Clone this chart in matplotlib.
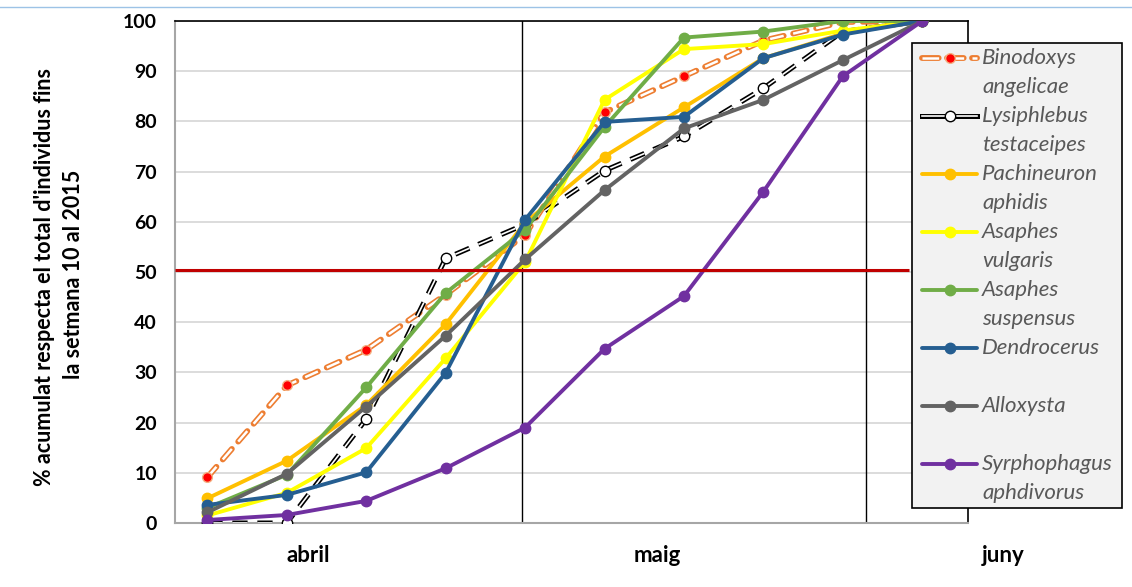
import numpy as np
import matplotlib
matplotlib.use('agg')
import matplotlib.pyplot as plt
from matplotlib.lines import Line2D
from matplotlib.patches import Rectangle
from matplotlib import transforms

plt.rcParams['font.family'] = ['Lato', 'DejaVu Sans']
plt.rcParams['lines.scale_dashes'] = False

# weekly points (10 weeks), cumulative %
weeks = np.arange(10)
binodoxys = [9.1, 27.4, 34.5, 45.5, 57.4, 81.8, 89.0, 96.1, 99.8, 100]
lysiphlebus = [0.0, 0.0, 20.7, 52.7, 59.5, 70.2, 77.0, 86.6, 97.9, 100]
pachineuron = [4.9, 12.4, 23.5, 39.6, 59.8, 73.0, 82.8, 92.6, 97.5, 100]
as_vulgaris = [1.5, 6.0, 14.9, 32.8, 52.0, 84.3, 94.4, 95.4, 98.1, 100]
as_suspensus = [3.0, 9.6, 27.0, 45.8, 58.4, 78.9, 96.7, 97.9, 100, 100]
dendrocerus = [3.6, 5.6, 10.1, 29.9, 60.4, 79.9, 80.9, 92.6, 97.3, 100]
alloxysta = [2.1, 9.8, 23.2, 37.3, 52.5, 66.3, 78.6, 84.3, 92.2, 100]
syrphophagus = [0.6, 1.6, 4.4, 10.9, 19.0, 34.7, 45.2, 66.0, 89.0, 100]

solid_series = [
    (pachineuron, '#ffc000', ('Pachineuron', 'aphidis')),
    (as_vulgaris, '#ffff00', ('Asaphes', 'vulgaris')),
    (as_suspensus, '#70ad47', ('Asaphes', 'suspensus')),
    (dendrocerus, '#255e91', ('Dendrocerus', '')),
    (alloxysta, '#636363', ('Alloxysta', '')),
    (syrphophagus, '#7030a0', ('Syrphophagus', 'aphdivorus')),
]

months = ['abril', 'maig', 'juny']
month_pos = [1.27, 5.66, 10.02]
month_breaks = [3.96, 8.29]
threshold = 50.3
yticks = np.arange(0, 101, 10)

W, H = 1132, 587
fig = plt.figure(figsize=(W / 100, H / 100), dpi=100)
ax = fig.add_axes([175 / W, 1 - 523 / H, (968 - 175) / W, (523 - 21) / H])

def px(x, y):
    return x / W, 1 - y / H

LW = 2.8
MS = 7.5
dash_a = (10, 7)
dash_b = (11, 7)

# Binodoxys: outlined orange dashes, red markers
ax.plot(weeks, binodoxys, color='#ed7d31', lw=4.2, dashes=dash_a,
        dash_capstyle='round', zorder=3)
ax.plot(weeks, binodoxys, color='white', lw=1.8, dashes=dash_a,
        dash_capstyle='butt', zorder=3)
ax.plot(weeks, binodoxys, ls='none', marker='o', ms=7, mfc='#ff0000',
        mec='#f4b183', mew=1, zorder=3)

# Lysiphlebus: double black dashes, white markers
ax.plot(weeks, lysiphlebus, color='black', lw=3.6, dashes=dash_b,
        dash_capstyle='butt', zorder=3)
ax.plot(weeks, lysiphlebus, color='white', lw=1.2, dashes=dash_b,
        dash_capstyle='butt', zorder=3)
ax.plot(weeks, lysiphlebus, ls='none', marker='o', ms=7.5, mfc='white',
        mec='black', mew=1, zorder=3)

for vals, col, _ in solid_series:
    ax.plot(weeks, vals, color=col, lw=LW, marker='o', ms=MS, zorder=3,
            solid_capstyle='round')

for b in month_breaks:
    ax.axvline(b, color='black', lw=1, zorder=2)

ax.plot([-0.41, 8.83], [threshold, threshold], color='#c00000', lw=2.2,
        zorder=4, solid_capstyle='butt')

ax.set_xlim(-0.407, 9.576)
ax.set_ylim(0, 100)
ax.set_yticks(yticks)
ax.set_yticklabels([str(v) for v in yticks], fontweight='bold', fontsize=14)
ax.yaxis.grid(True, color='#d9d9d9', lw=1.3, zorder=0)
ax.set_axisbelow(True)
ax.tick_params(axis='y', length=0, pad=13)
ax.set_xticks([])

for s in ['left', 'bottom']:
    ax.spines[s].set_color('#a6a6a6')
    ax.spines[s].set_linewidth(1.5)
for s in ['top', 'right']:
    ax.spines[s].set_color('black')
    ax.spines[s].set_linewidth(1.2)

trans = transforms.blended_transform_factory(ax.transData, ax.transAxes)
for m, pos in zip(months, month_pos):
    ax.text(pos, -0.064, m, transform=trans, ha='center', va='center',
            fontsize=16, fontweight='bold', clip_on=False)

fig.text(*px(45, 277), "% acumulat respecta el total d'individus fins",
         rotation=90, ha='center', va='center', fontsize=15.5, fontweight='bold')
fig.text(*px(73, 274), "la setmana 10 al 2015",
         rotation=90, ha='center', va='center', fontsize=15.5, fontweight='bold')

# thin frame line at top
fig.add_artist(Line2D([0, 1], [1 - 7 / H, 1 - 7 / H], color='#9dc3e6',
                      lw=1, transform=fig.transFigure))

# legend box, drawn by hand
x0, y0 = px(912, 508)
x1, y1 = px(1122, 43)
fig.add_artist(Rectangle((x0, y0), x1 - x0, y1 - y0, transform=fig.transFigure,
                         facecolor='#f2f2f2', edgecolor='black', lw=1.2,
                         zorder=5))

entries = [('bino', ('Binodoxys', 'angelicae')),
           ('lysi', ('Lysiphlebus', 'testaceipes'))] + \
          [(col, lab) for _, col, lab in solid_series]

for i, (kind, lab) in enumerate(entries):
    yy = 58 + 58.0 * i
    xs = [px(922, yy)[0], px(977, yy)[0]]
    ys = [px(0, yy)[1]] * 2
    mx = [px(950, yy)[0]]
    if kind == 'bino':
        fig.add_artist(Line2D(xs, ys, color='#ed7d31', lw=4.2, dashes=(12, 6),
                              dash_capstyle='round', transform=fig.transFigure, zorder=6))
        fig.add_artist(Line2D(xs, ys, color='white', lw=1.8, dashes=(12, 6),
                              dash_capstyle='butt', transform=fig.transFigure, zorder=6))
        fig.add_artist(Line2D(mx, [ys[0]], ls='none', marker='o', ms=7,
                              mfc='#ff0000', mec='#f4b183', transform=fig.transFigure, zorder=6))
    elif kind == 'lysi':
        fig.add_artist(Line2D(xs, ys, color='black', lw=3.6,
                              transform=fig.transFigure, zorder=6))
        fig.add_artist(Line2D(xs, ys, color='white', lw=1.2,
                              transform=fig.transFigure, zorder=6))
        fig.add_artist(Line2D(mx, [ys[0]], ls='none', marker='o', ms=7.5,
                              mfc='white', mec='black', transform=fig.transFigure, zorder=6))
    else:
        fig.add_artist(Line2D(xs, ys, color=kind, lw=LW, transform=fig.transFigure,
                              zorder=6, solid_capstyle='round'))
        fig.add_artist(Line2D(mx, [ys[0]], ls='none', marker='o', ms=MS,
                              color=kind, transform=fig.transFigure, zorder=6))
    for j, line in enumerate(lab):
        if line:
            fig.text(*px(982, yy + 29 * j), line, ha='left', va='center',
                     fontsize=16, style='italic', color='#595959', zorder=7)

fig.savefig('out.png', dpi=100)
